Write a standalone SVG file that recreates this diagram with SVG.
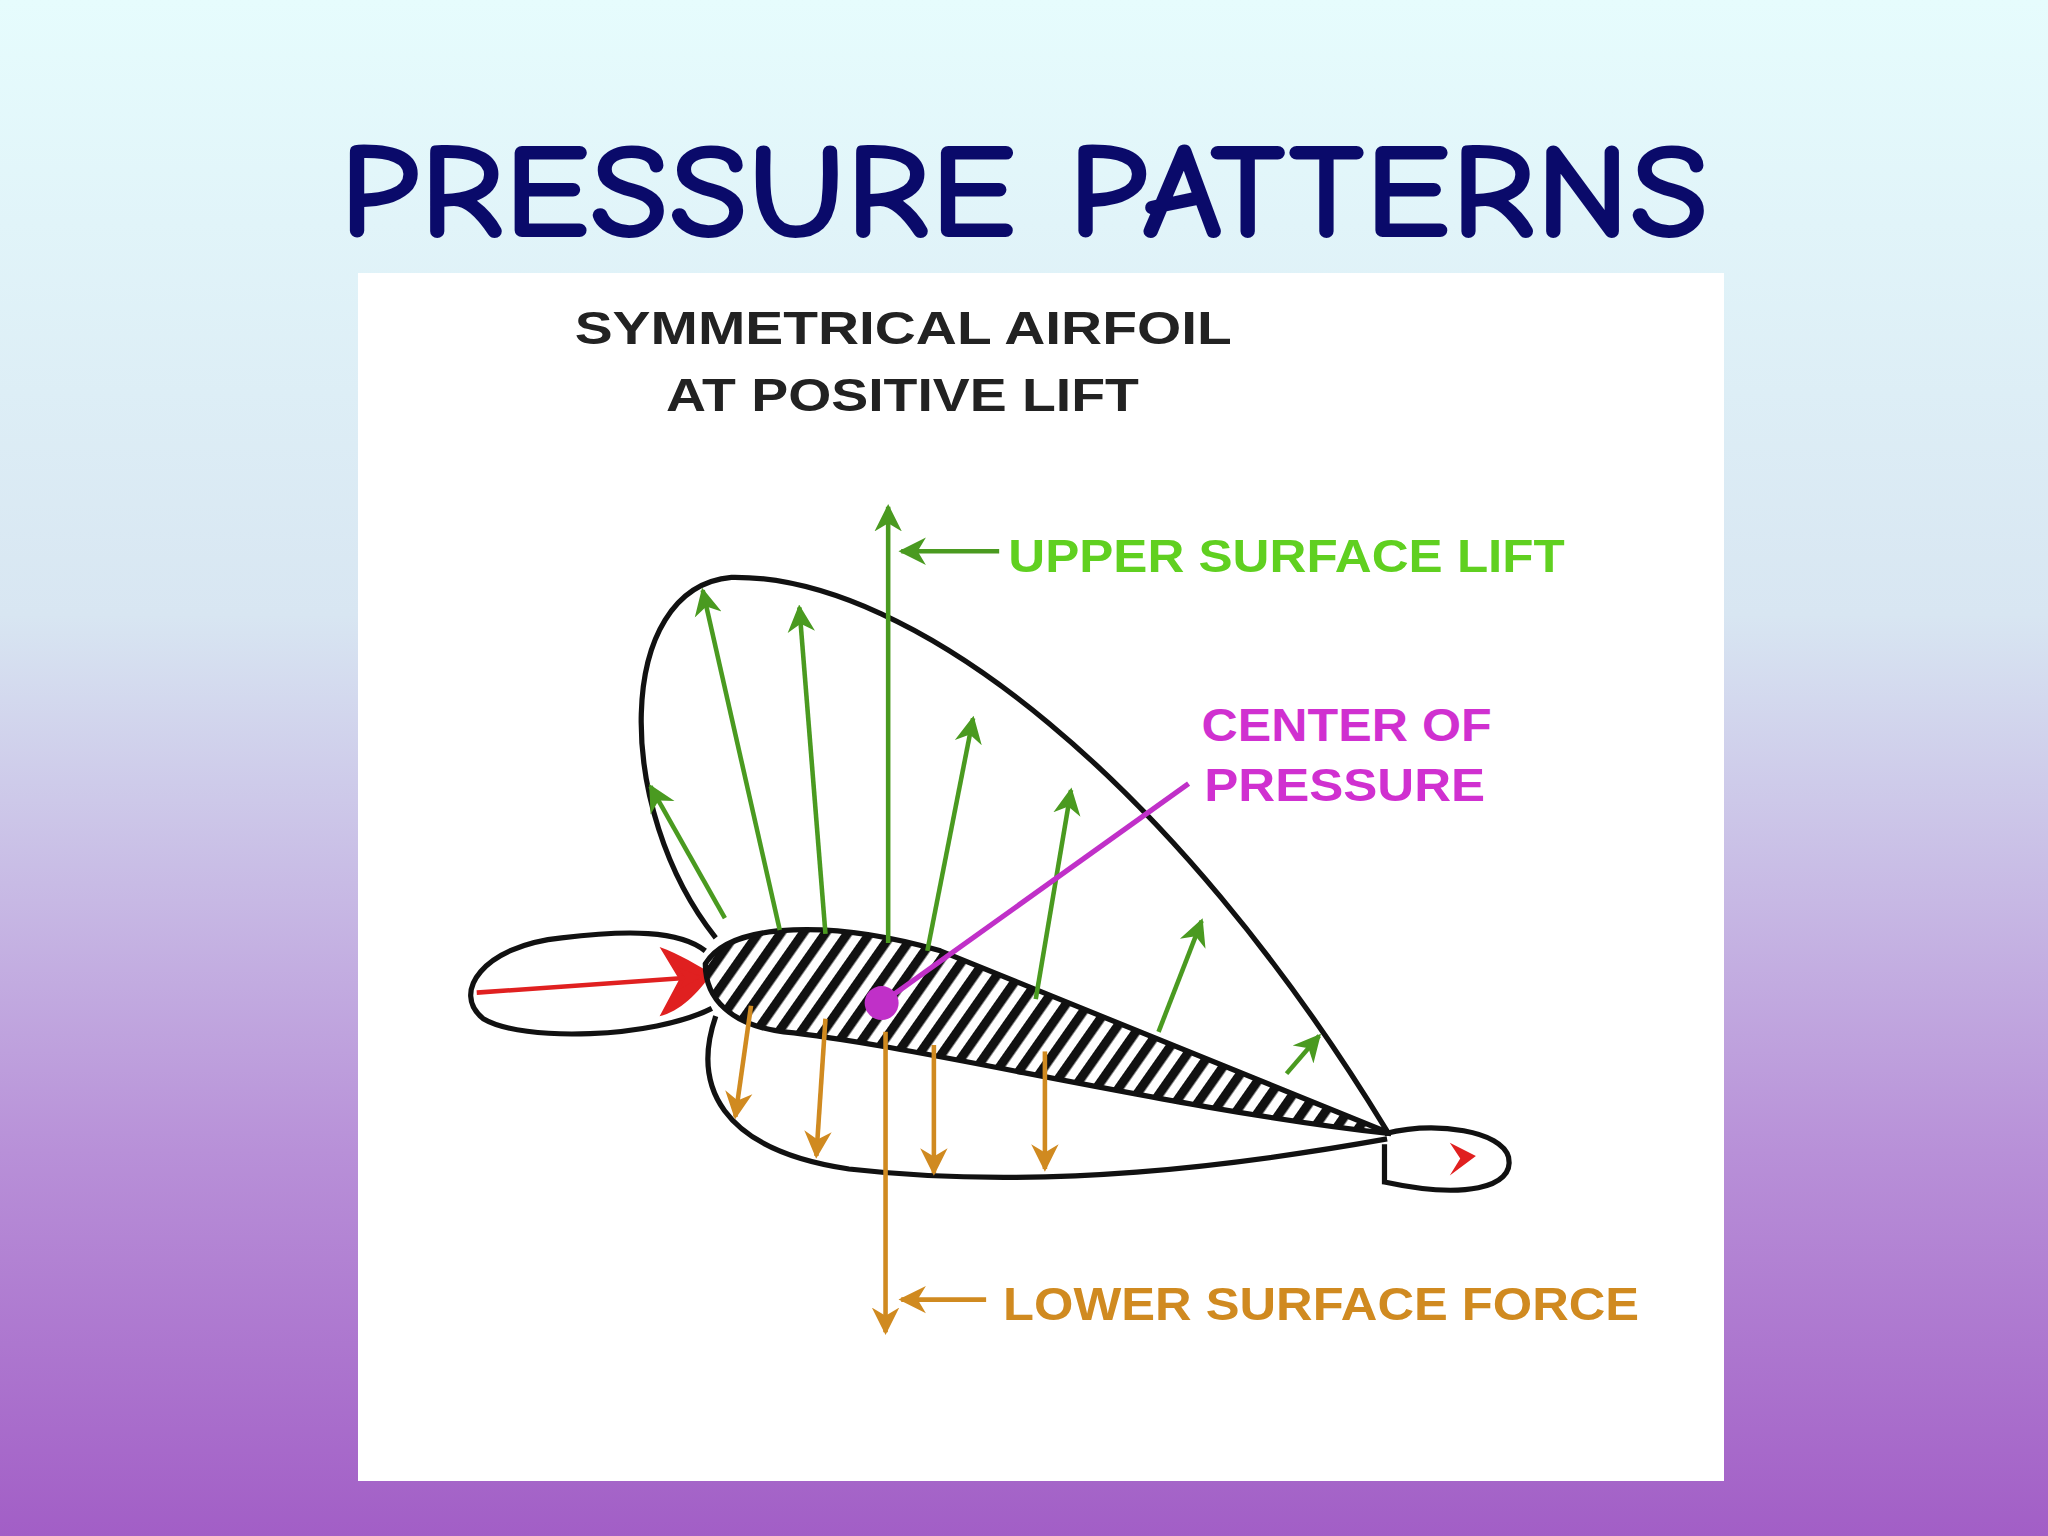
<svg xmlns="http://www.w3.org/2000/svg" width="2048" height="1536" viewBox="0 0 2048 1536">
<style>
.t{font-family:"Liberation Sans",Arial,sans-serif;font-weight:bold}
.o{fill:none;stroke:#111;stroke-width:4}
.g{stroke:#4a9a20;stroke-width:3.5;fill:none}
.y{stroke:#d08a20;stroke-width:3.5;fill:none}
</style>
<defs>
<linearGradient id="bg" x1="0" y1="0" x2="0" y2="1">
<stop offset="0" stop-color="#e6fcfd"/><stop offset="0.4" stop-color="#d8e6f2"/><stop offset="0.75" stop-color="#b890d8"/><stop offset="1" stop-color="#a25ec6"/>
</linearGradient>
<pattern id="h" width="14" height="14" patternUnits="userSpaceOnUse" patternTransform="rotate(35)">
<rect width="14" height="14" fill="#fff"/><rect width="7" height="14" fill="#111"/>
</pattern>
<marker id="ag" viewBox="0 0 10 10" refX="9" refY="5" markerWidth="6" markerHeight="7" orient="auto"><path d="M0,0L10,5L0,10L3,5z" fill="#4a9a20"/></marker>
<marker id="ay" viewBox="0 0 10 10" refX="9" refY="5" markerWidth="6" markerHeight="7" orient="auto"><path d="M0,0L10,5L0,10L3,5z" fill="#d08a20"/></marker>
<marker id="ar" viewBox="0 0 10 10" refX="9" refY="5" markerWidth="5" markerHeight="6" orient="auto"><path d="M0,0L10,5L0,10L3,5z" fill="#e02020"/></marker>
</defs>
<rect width="2048" height="1536" fill="url(#bg)"/>
<text x="1024" y="237" text-anchor="middle" font-family="'Comic Neue','DejaVu Sans',sans-serif" font-weight="bold" font-size="136" fill="#0a0a6a" textLength="1370" lengthAdjust="spacingAndGlyphs">PRESSURE PATTERNS</text>
<rect x="358" y="273" width="1366" height="1208" fill="#fff"/>
<g transform="scale(1.30612)">
<g id="title2"><text class="t" x="440" y="263" font-size="35" fill="#222" textLength="503" lengthAdjust="spacingAndGlyphs">SYMMETRICAL AIRFOIL</text>
<text class="t" x="510" y="315" font-size="35" fill="#222" textLength="362" lengthAdjust="spacingAndGlyphs">AT POSITIVE LIFT</text></g>
<g id="lobes">
<path class="o" d="M548,718 C470,620 470,450 560,442 C700,440 900,600 1062,866"/>
<path class="o" d="M548,778 C530,830 550,880 650,895 C800,912 950,892 1062,872"/>
<path class="o" d="M540,728 C520,712 480,712 430,718 C370,724 345,760 370,780 C400,798 500,795 545,772"/>
<path class="o" d="M1060,868 C1100,858 1150,866 1155,886 C1160,910 1120,918 1060,905 L1060,876"/>
<path d="M505,725 C520,730 535,740 545,745 C535,760 520,775 505,778 L520,750z" fill="#e02020"/>
<path d="M1110,875 L1130,885 L1110,900 L1118,887z" fill="#e02020"/>
</g>
<g id="airfoil"><path d="M540,738 C560,705 640,705 720,728 L1065,868 C900,850 700,800 600,790 C560,785 540,765 540,738z" fill="url(#h)" stroke="#111" stroke-width="4"/></g>
<g id="connectors">
<path class="g" d="M555,703 L498,602" marker-end="url(#ag)"/>
<path class="g" d="M597,712 L538,452" marker-end="url(#ag)"/>
<path class="g" d="M632,715 L612,465" marker-end="url(#ag)"/>
<path class="g" d="M680,722 L680,388" stroke-width="5" marker-end="url(#ag)" stroke="#60d020"/>
<path class="g" d="M710,728 L745,550" marker-end="url(#ag)"/>
<path class="g" d="M793,765 L820,605" marker-end="url(#ag)"/>
<path class="g" d="M887,790 L920,705" marker-end="url(#ag)"/>
<path class="g" d="M985,822 L1010,793" marker-end="url(#ag)"/>
<path class="g" d="M765,422 L690,422" stroke="#60d020" stroke-width="5" marker-end="url(#ag)"/>
<path class="y" d="M575,770 L563,855" marker-end="url(#ay)"/>
<path class="y" d="M632,780 L625,885" marker-end="url(#ay)"/>
<path class="y" d="M715,800 L715,898" marker-end="url(#ay)"/>
<path class="y" d="M800,805 L800,895" marker-end="url(#ay)"/>
<path class="y" d="M678,790 L678,1020" stroke-width="5" marker-end="url(#ay)"/>
<path class="y" d="M755,995 L690,995" stroke-width="5" marker-end="url(#ay)"/>
<path d="M365,760 L535,748" stroke="#e02020" stroke-width="3.5" marker-end="url(#ar)"/>
<path d="M675,768 L910,600" stroke="#c030c8" stroke-width="4"/>
</g>
<g id="cp"><circle cx="675" cy="768" r="13" fill="#c030c8"/></g>
<g id="labels">
<text class="t" x="772" y="438" font-size="35" fill="#60d020" textLength="426" lengthAdjust="spacingAndGlyphs">UPPER SURFACE LIFT</text>
<text class="t" x="920" y="567" font-size="35" fill="#d030d0" textLength="222" lengthAdjust="spacingAndGlyphs">CENTER OF</text>
<text class="t" x="922" y="613" font-size="35" fill="#d030d0" textLength="215" lengthAdjust="spacingAndGlyphs">PRESSURE</text>
<text class="t" x="768" y="1011" font-size="35" fill="#d08a20" textLength="487" lengthAdjust="spacingAndGlyphs">LOWER SURFACE FORCE</text>
</g>
</g>
</svg>
